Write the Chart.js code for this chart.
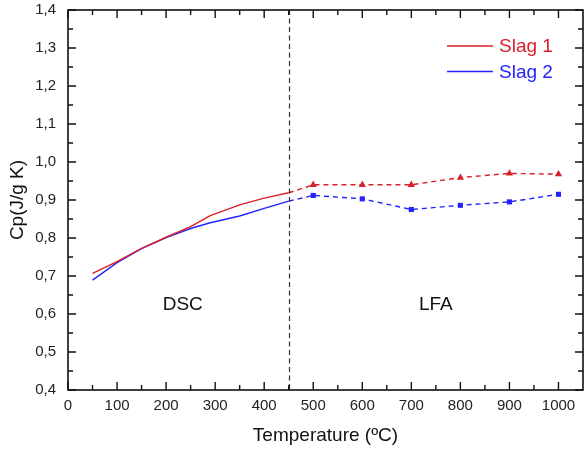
<!DOCTYPE html>
<html>
<head>
<meta charset="utf-8">
<script src="https://cdn.jsdelivr.net/npm/chart.js@4"></script>
<style>
  html, body { margin: 0; padding: 0; background: #fff; }
  #wrap { width: 584px; height: 449px; position: relative; }
</style>
</head>
<body>
<div id="wrap"><canvas id="cpChart"></canvas></div>
<script>
// DSC run (continuous curves)
var dscTemp = [50, 100, 150, 200, 250, 290, 350, 400, 450];
var slag1Dsc = [0.707, 0.738, 0.773, 0.802, 0.83, 0.859, 0.887, 0.905, 0.919];
var slag2Dsc = [0.689, 0.735, 0.772, 0.801, 0.825, 0.84, 0.858, 0.878, 0.897];

// LFA points
var lfaTemp = [500, 600, 700, 800, 900, 1000];
var slag1Lfa = [0.94, 0.94, 0.94, 0.959, 0.97, 0.968];
var slag2Lfa = [0.912, 0.903, 0.875, 0.886, 0.895, 0.915];

var seriesNames = ['Slag 1', 'Slag 2'];
var xTicks = [0, 100, 200, 300, 400, 500, 600, 700, 800, 900, 1000];
var yTicks = [0.4, 0.5, 0.6, 0.7, 0.8, 0.9, 1.0, 1.1, 1.2, 1.3, 1.4];
var boundaryTemp = 450;

var RED = '#d9202a';
var BLUE = '#2323ff';
var FONT = 'Arial, "Liberation Sans", sans-serif';

function toPoints(xs, ys) {
    return xs.map((x, i) => ({ x: x, y: ys[i] }));
}

// LFA line starts from the last DSC point so the dashed link is drawn
function lfaPoints(dscY, lfaY) {
    return [{ x: boundaryTemp, y: dscY[dscY.length - 1] }].concat(toPoints(lfaTemp, lfaY));
}

function radii(r) {
    return [0].concat(lfaTemp.map(() => r));
}

var comma = v => v.toFixed(1).replace('.', ',');

function noPadding(scale) {
    scale.paddingLeft = 0;
    scale.paddingRight = 0;
    scale.paddingTop = 0;
    scale.paddingBottom = 0;
}

// stretch the plot to 1px from the right edge of the canvas
var edgePlugin = {
    id: 'edge',
    afterLayout(chart) {
        var a = chart.chartArea, xs = chart.scales.x;
        var right = chart.width - 1;
        a.right = right;
        a.width = right - a.left;
        xs.right = right;
        xs.width = right - xs.left;
        xs.configure();
    }
};

// frame, inward ticks, boundary line, region labels and legend
var decorPlugin = {
    id: 'decor',
    afterDatasetsDraw(chart) {
        var ctx = chart.ctx;
        var a = chart.chartArea;
        var xs = chart.scales.x, ys = chart.scales.y;
        ctx.save();

        // dashed boundary between DSC and LFA
        var bx = Math.round(xs.getPixelForValue(boundaryTemp)) + 0.5;
        ctx.strokeStyle = '#333';
        ctx.lineWidth = 1.2;
        ctx.setLineDash([5, 3.5]);
        ctx.beginPath();
        ctx.moveTo(bx, a.top);
        ctx.lineTo(bx, a.bottom);
        ctx.stroke();
        ctx.setLineDash([]);

        // frame
        ctx.strokeStyle = '#111';
        ctx.lineWidth = 1.6;
        ctx.strokeRect(a.left, a.top, a.right - a.left, a.bottom - a.top);

        // ticks on all four sides, majors and minors
        ctx.lineWidth = 1.4;
        ctx.beginPath();
        for (var v = 0; v <= 1000; v += 50) {
            var px = xs.getPixelForValue(v);
            var len = v % 100 === 0 ? 8 : 5;
            ctx.moveTo(px, a.bottom); ctx.lineTo(px, a.bottom - len);
            ctx.moveTo(px, a.top); ctx.lineTo(px, a.top + len);
        }
        for (var k = 0; k <= 20; k++) {
            var val = 0.4 + k * 0.05;
            var py = ys.getPixelForValue(val);
            var l = k % 2 === 0 ? 8 : 5;
            ctx.moveTo(a.left, py); ctx.lineTo(a.left + l, py);
            ctx.moveTo(a.right, py); ctx.lineTo(a.right - l, py);
        }
        ctx.stroke();

        // region labels
        ctx.fillStyle = '#111';
        ctx.font = '19px ' + FONT;
        ctx.textAlign = 'center';
        ctx.textBaseline = 'middle';
        ctx.fillText('DSC', xs.getPixelForValue(234), ys.getPixelForValue(0.624));
        ctx.fillText('LFA', xs.getPixelForValue(750), ys.getPixelForValue(0.624));

        // legend
        var colors = [RED, BLUE];
        ctx.textAlign = 'left';
        ctx.lineWidth = 1.3;
        seriesNames.forEach((name, i) => {
            var ly = 46 + i * 25.5;
            ctx.strokeStyle = colors[i];
            ctx.beginPath();
            ctx.moveTo(447, ly);
            ctx.lineTo(493, ly);
            ctx.stroke();
            ctx.fillStyle = colors[i];
            ctx.fillText(name, 499, ly + 1);
        });

        ctx.restore();
    }
};

var ctx = document.getElementById('cpChart').getContext('2d');
var chart = new Chart(ctx, {
    type: 'scatter',
    data: {
        datasets: [
            {
                label: seriesNames[0],
                data: toPoints(dscTemp, slag1Dsc),
                showLine: true,
                borderColor: RED,
                borderWidth: 1.4,
                pointRadius: 0
            },
            {
                label: seriesNames[1],
                data: toPoints(dscTemp, slag2Dsc),
                showLine: true,
                borderColor: BLUE,
                borderWidth: 1.4,
                pointRadius: 0
            },
            {
                label: seriesNames[0] + ' LFA',
                data: lfaPoints(slag1Dsc, slag1Lfa),
                showLine: true,
                borderColor: RED,
                backgroundColor: RED,
                borderWidth: 1.4,
                borderDash: [5, 4],
                pointStyle: 'triangle',
                pointRadius: radii(4.2),
                pointBorderWidth: 0
            },
            {
                label: seriesNames[1] + ' LFA',
                data: lfaPoints(slag2Dsc, slag2Lfa),
                showLine: true,
                borderColor: BLUE,
                backgroundColor: BLUE,
                borderWidth: 1.4,
                borderDash: [5, 4],
                pointStyle: 'rect',
                pointRadius: radii(3.6),
                pointBorderWidth: 0
            }
        ]
    },
    options: {
        responsive: true,
        maintainAspectRatio: false,
        animation: false,
        layout: { padding: { top: 10, right: 1, left: 0, bottom: 0 } },
        plugins: {
            legend: { display: false },
            tooltip: { enabled: false }
        },
        scales: {
            x: {
                type: 'linear',
                min: 0,
                max: 1050,
                afterBuildTicks: scale => {
                    scale.ticks = xTicks.map(v => ({ value: v }));
                },
                afterFit: scale => {
                    scale.height = 59;
                    noPadding(scale);
                },
                grid: { display: false, drawTicks: false },
                border: { display: false },
                ticks: {
                    padding: 7,
                    color: '#222',
                    font: { size: 15, family: FONT },
                    maxRotation: 0,
                    callback: v => String(v)
                },
                title: {
                    display: true,
                    text: 'Temperature (ºC)',
                    color: '#111',
                    font: { size: 19, family: FONT },
                    padding: { top: 0, bottom: 2 }
                }
            },
            y: {
                min: 0.4,
                max: 1.4,
                afterBuildTicks: scale => {
                    scale.ticks = yTicks.map(v => ({ value: v }));
                },
                afterFit: scale => {
                    scale.width = 68;
                    noPadding(scale);
                },
                grid: { display: false, drawTicks: false },
                border: { display: false },
                ticks: {
                    padding: 12,
                    color: '#222',
                    font: { size: 15, family: FONT },
                    callback: v => comma(v)
                },
                title: {
                    display: true,
                    text: 'Cp(J/g K)',
                    color: '#111',
                    font: { size: 19, family: FONT },
                    padding: { top: 6, bottom: 0 }
                }
            }
        }
    },
    plugins: [edgePlugin, decorPlugin]
});
</script>
</body>
</html>
